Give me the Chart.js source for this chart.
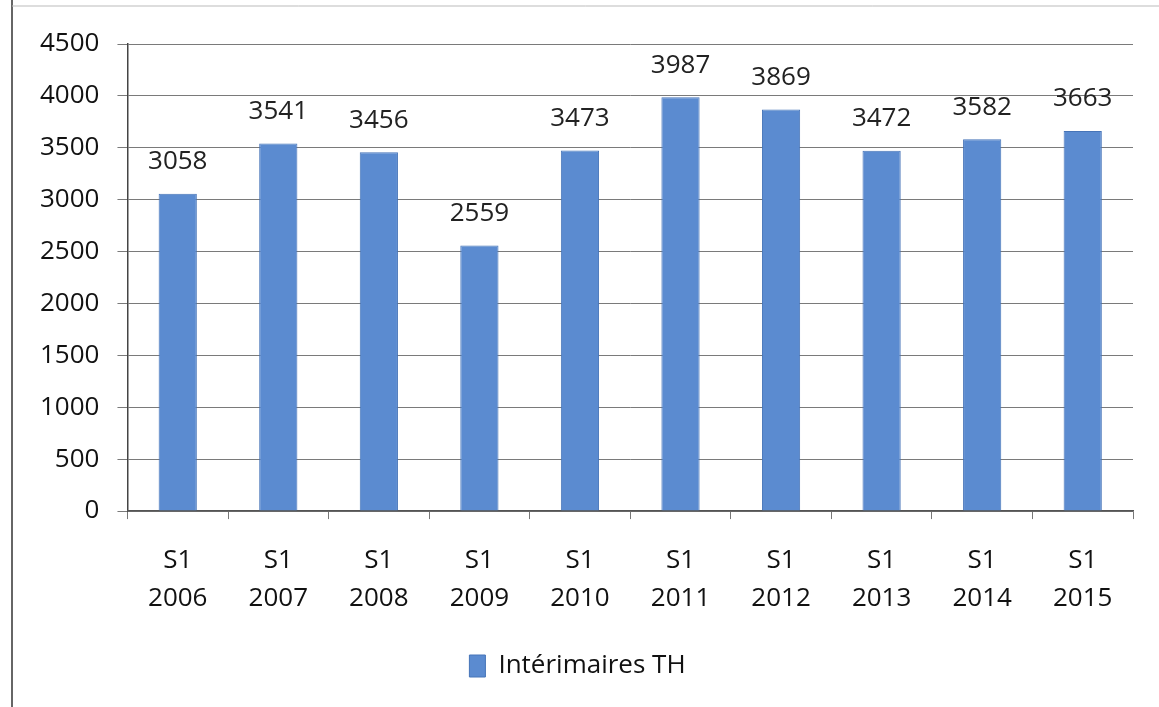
<!DOCTYPE html>
<html>
<head>
<meta charset="utf-8">
<script src="https://cdn.jsdelivr.net/npm/chart.js@4"></script>
<style>
  html, body { margin: 0; padding: 0; background: #fff; }
  #wrap { width: 1159px; height: 707px; position: relative; }
</style>
</head>
<body>
<div id="wrap"><canvas id="barChart" width="1159" height="707"></canvas></div>
<script>
// data
const categories = [['S1', '2006'], ['S1', '2007'], ['S1', '2008'], ['S1', '2009'], ['S1', '2010'],
    ['S1', '2011'], ['S1', '2012'], ['S1', '2013'], ['S1', '2014'], ['S1', '2015']];
const interimairesTH = [3058, 3541, 3456, 2559, 3473, 3987, 3869, 3472, 3582, 3663];
const yTicks = [0, 500, 1000, 1500, 2000, 2500, 3000, 3500, 4000, 4500];

const FONT = "'Open Sans', 'DejaVu Sans', sans-serif";
const FS = 26;

// value labels above bars
const valueLabels = {
    id: 'valueLabels',
    afterDatasetsDraw(chart) {
        const ctx = chart.ctx;
        const meta = chart.getDatasetMeta(0);
        ctx.save();
        ctx.font = FS + 'px ' + FONT;
        ctx.fillStyle = '#222';
        ctx.textAlign = 'center';
        ctx.textBaseline = 'middle';
        meta.data.forEach((bar, i) => {
            ctx.fillText(String(interimairesTH[i]), bar.x, bar.y - 32);
        });
        ctx.restore();
    }
};

// page frame
const frame = {
    id: 'frame',
    beforeDraw(chart) {
        const ctx = chart.ctx;
        ctx.save();
        ctx.strokeStyle = '#333';
        ctx.lineWidth = 1.5;
        ctx.beginPath();
        ctx.moveTo(12, 0);
        ctx.lineTo(12, 707);
        ctx.stroke();
        ctx.strokeStyle = '#bbb';
        ctx.lineWidth = 1;
        ctx.beginPath();
        ctx.moveTo(12, 6);
        ctx.lineTo(1159, 6);
        ctx.stroke();
        ctx.restore();
    }
};

const barChart = document.getElementById('barChart').getContext('2d');
new Chart(barChart, {
    type: 'bar',
    data: {
        labels: categories,
        datasets: [{
            label: 'Intérimaires TH',
            data: interimairesTH,
            backgroundColor: '#5b8bd0',
            borderColor: '#4674b8',
            borderWidth: 1,
            barPercentage: 0.38,
            categoryPercentage: 1
        }]
    },
    options: {
        responsive: false,
        animation: false,
        layout: { padding: { left: 22, right: 26, top: 44, bottom: 18 } },
        scales: {
            y: {
                min: 0,
                max: 4500,
                afterBuildTicks: (axis) => { axis.ticks = yTicks.map(v => ({ value: v })); },
                grid: { color: '#7a7a7a', lineWidth: 1, tickLength: 10 },
                border: { display: true, color: '#444', width: 1.5 },
                ticks: {
                    color: '#111',
                    font: { family: FONT, size: FS },
                    padding: 18,
                    callback: (v) => String(v)
                }
            },
            x: {
                offset: true,
                grid: { offset: true, drawOnChartArea: false, drawTicks: true, tickLength: 8, color: '#777' },
                border: { display: true, color: '#555', width: 1.5 },
                ticks: { color: '#111', font: { family: FONT, size: FS, lineHeight: 1.46 }, padding: 23, maxRotation: 0 }
            }
        },
        plugins: {
            legend: {
                display: true,
                position: 'bottom',
                labels: {
                    color: '#111',
                    font: { family: FONT, size: FS },
                    boxWidth: 16,
                    boxHeight: 22,
                    padding: 12
                }
            },
            tooltip: { enabled: false }
        }
    },
    plugins: [valueLabels, frame]
});
</script>
</body>
</html>
